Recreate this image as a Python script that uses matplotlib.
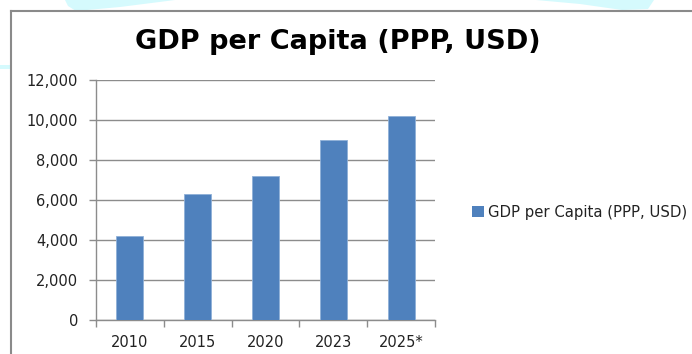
import numpy as np
import matplotlib.pyplot as plt
from matplotlib.patches import Patch, Polygon
from matplotlib.lines import Line2D
from matplotlib.ticker import FuncFormatter

years = ['2010', '2015', '2020', '2023', '2025*']
gdp_ppp = [4200, 6300, 7200, 9000, 10200]
series_name = 'GDP per Capita (PPP, USD)'

W, H = 692, 354
bar_color = '#4F81BD'
grid_color = '#8C8C8C'
text_color = '#222222'


def px(x, y):
    """ pixel coords (top-left origin) -> figure fraction """
    return x / W, 1 - y / H


fig = plt.figure(figsize=(W / 100, H / 100), dpi=100)
fig.patch.set_facecolor('white')

# slide decoration peeking above the chart frame
for pts in ([(65, 0), (68, 6), (76, 11), (120, 7), (175, 0)],
            [(536, 0), (580, 4), (622, 10), (648, 9), (654, 0)],
            [(0, 65), (10, 65), (10, 69), (0, 69)]):
    fig.patches.append(Polygon([px(*p) for p in pts], closed=True,
                               transform=fig.transFigure,
                               facecolor='#d5fafd', edgecolor='none',
                               linewidth=0))

# chart frame (top and left edges visible)
fig.add_artist(Line2D([px(11, 0)[0], 1], [px(0, 11)[1]] * 2,
                      transform=fig.transFigure, color='#8a8a8a', lw=1.5))
fig.add_artist(Line2D([px(11, 0)[0]] * 2, [px(0, 11)[1], 0],
                      transform=fig.transFigure, color='#8a8a8a', lw=1.5))

left, top = px(96, 79.5)
right, bottom = px(435, 320)
ax = fig.add_axes([left, bottom, right - left, top - bottom])

x = np.arange(len(years))
ax.bar(x, gdp_ppp, width=0.4, color=bar_color, edgecolor='#8fb0d8',
       linewidth=0.6, zorder=3, label=series_name)

ax.set_xlim(-0.5, len(years) - 0.5)
ax.set_ylim(0, 12000)
ax.set_yticks(np.arange(0, 12001, 2000))
ax.yaxis.set_major_formatter(FuncFormatter(lambda v, p: f'{int(v):,}'))
ax.grid(axis='y', color=grid_color, linewidth=1.0, zorder=0)

ax.set_xticks(x)
ax.set_xticklabels(years)
ax.set_xticks(np.arange(-0.5, len(years)), minor=True)
ax.tick_params(axis='x', which='major', length=0, pad=11,
               labelsize=10.5, labelcolor=text_color)
ax.tick_params(axis='x', which='minor', length=5, width=1, color=grid_color)
ax.tick_params(axis='y', length=5, width=1, color=grid_color, pad=8,
               labelsize=10.5, labelcolor=text_color)

for side in ('top', 'right'):
    ax.spines[side].set_visible(False)
for side in ('left', 'bottom'):
    ax.spines[side].set_color(grid_color)
    ax.spines[side].set_linewidth(1.0)

tx, ty = px(338, 42)
fig.text(tx, ty, series_name, ha='center', va='center',
         fontsize=19.5, fontweight='bold', color='black')

lx, ly = px(465, 212)
ax.legend(handles=[Patch(facecolor=bar_color, edgecolor='none',
                         label=series_name)],
          loc='center left', bbox_to_anchor=(lx, ly),
          bbox_transform=fig.transFigure, frameon=False, borderpad=0,
          handlelength=0.75, handleheight=0.75, handletextpad=0.3,
          prop={'size': 10.7}, labelcolor=text_color)

fig.savefig('out.png', dpi=100, facecolor='white')
